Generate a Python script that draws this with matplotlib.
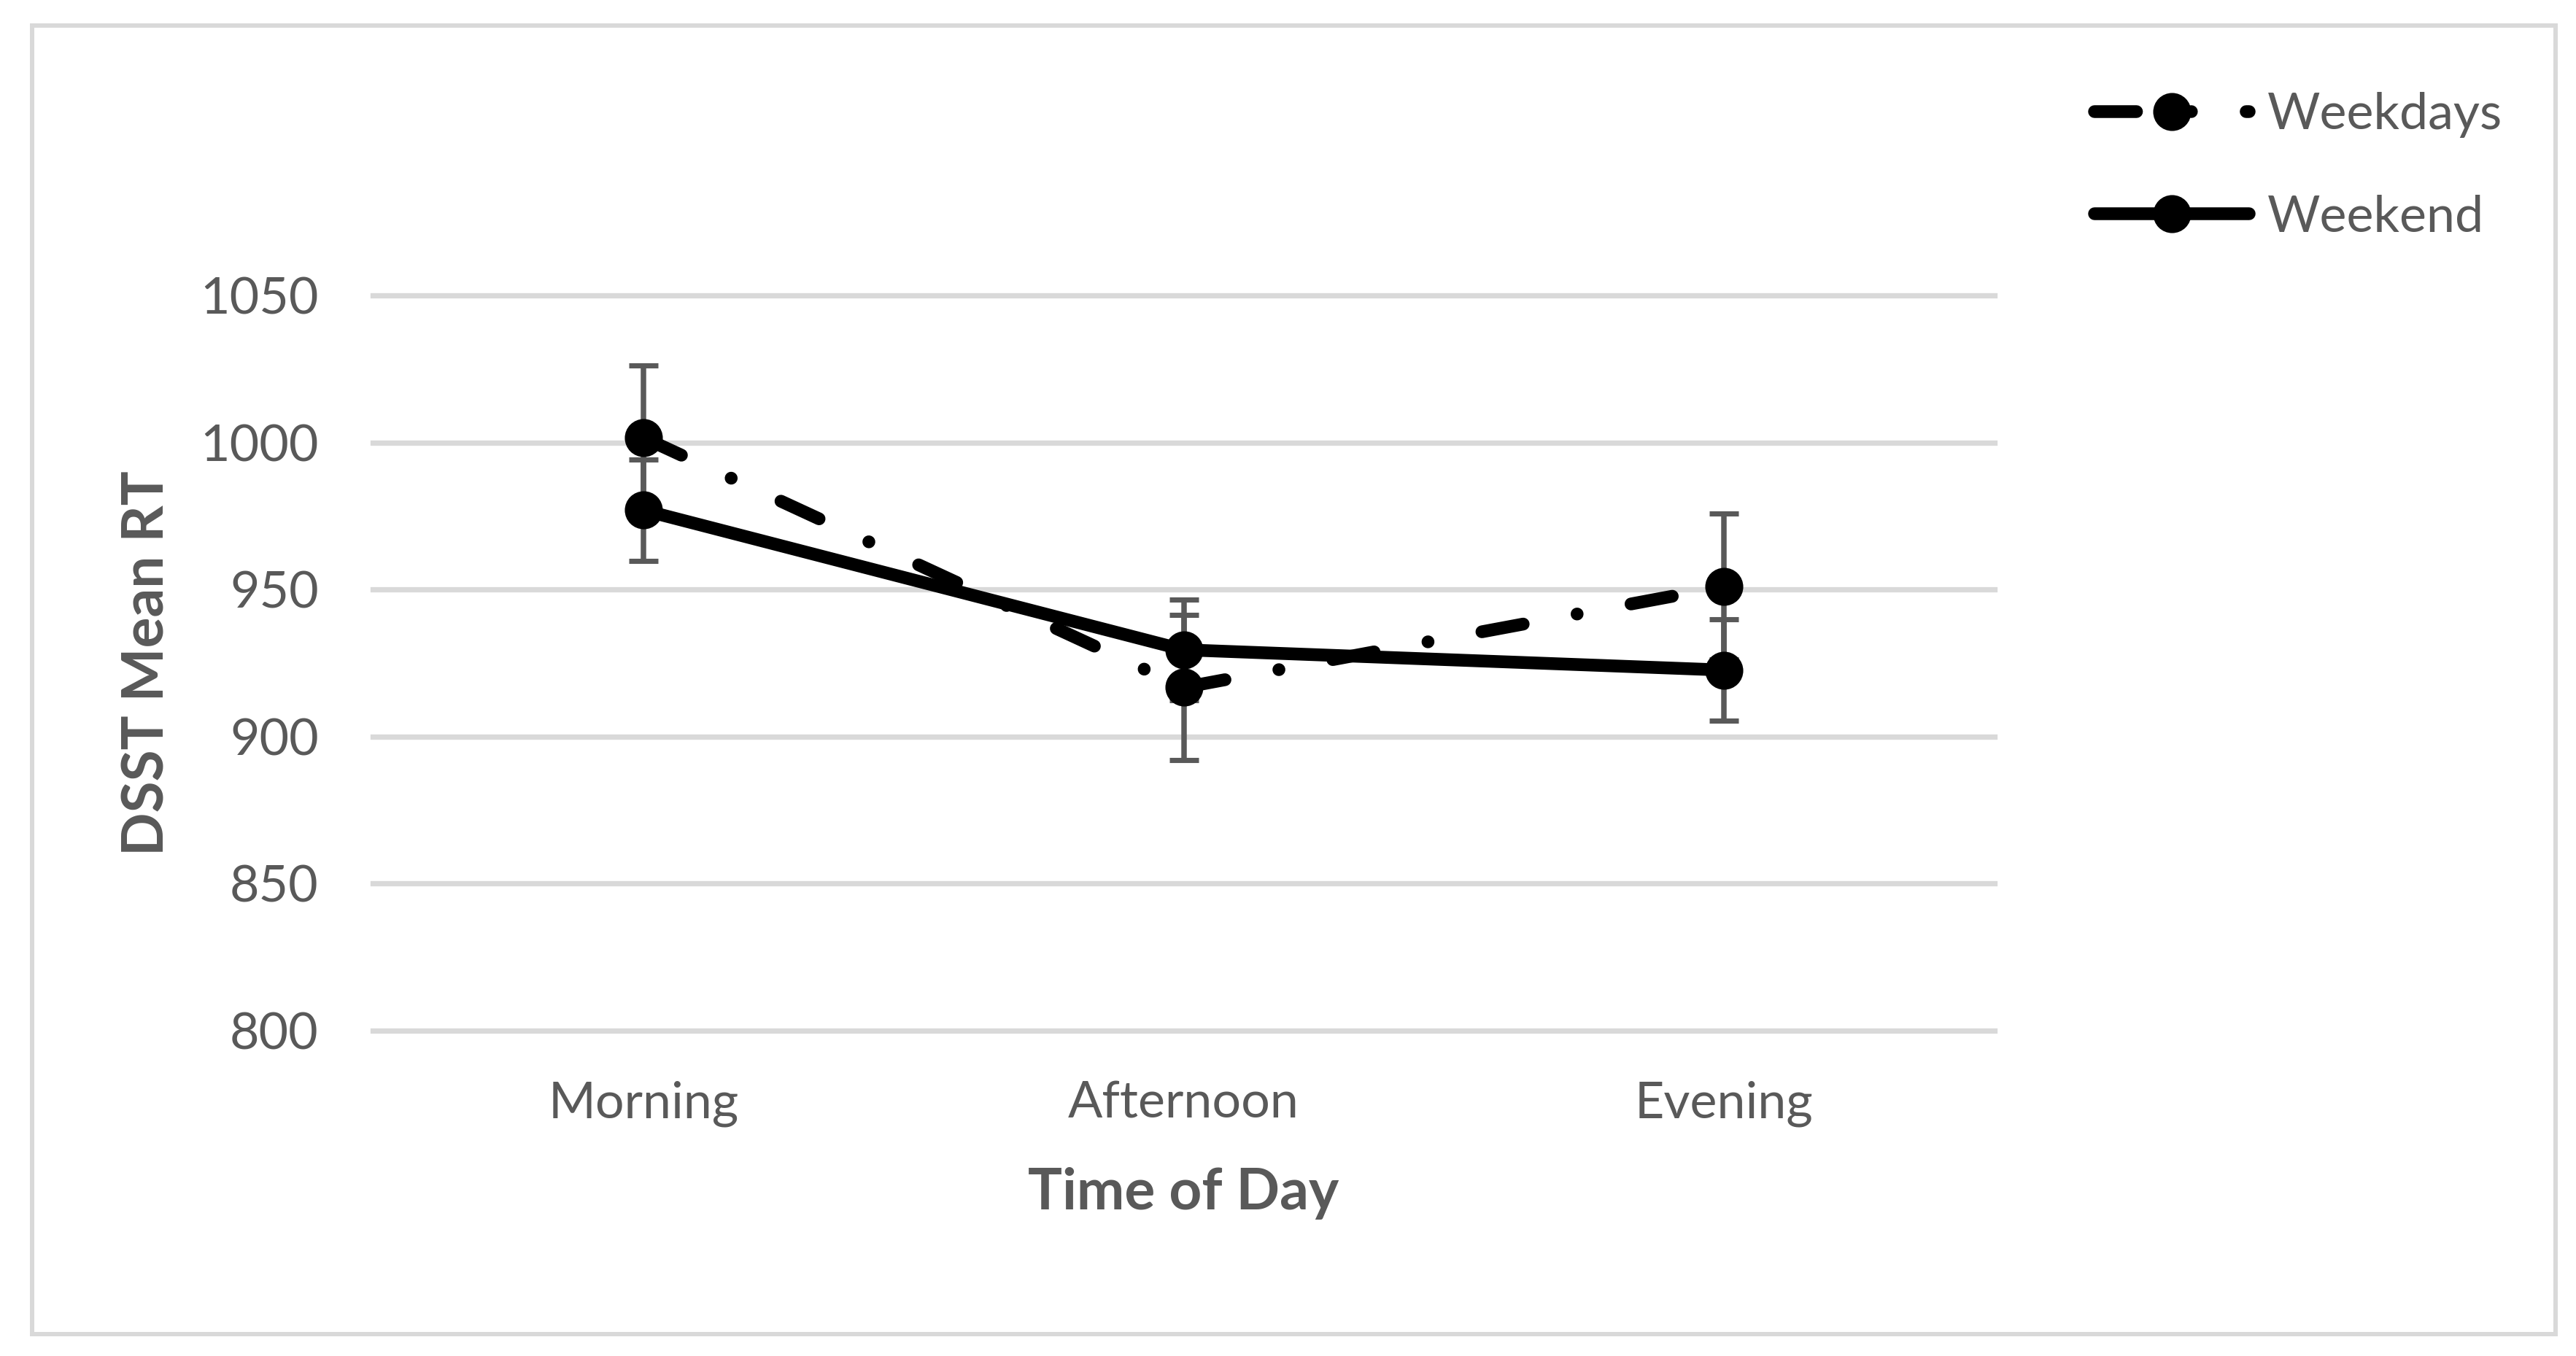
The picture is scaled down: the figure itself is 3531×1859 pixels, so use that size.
import matplotlib.pyplot as plt
from matplotlib.lines import Line2D
from matplotlib.patches import Rectangle

plt.rcParams["font.family"] = ["Lato", "DejaVu Sans"]

# data
times = ["Morning", "Afternoon", "Evening"]
weekdays_rt = [1001.7, 916.7, 951.0]
weekend_rt = [977.0, 929.5, 922.6]
weekdays_err = [24.6, 24.7, 24.8]
weekend_err = [17.3, 17.1, 17.3]
y_ticks = [800, 850, 900, 950, 1000, 1050]

C_TEXT = "#595959"
C_GRID = "#D9D9D9"
LW = 4.2
MS = 11.5
FS = 16.8
DASH = (3.29, 4.29, 0.01, 4.29)

W, H, DPI = 3531, 1859, 300
fig = plt.figure(figsize=(W / DPI, H / DPI), dpi=DPI)
ax = fig.add_axes([511.4 / W, 1 - 1412.7 / H, 2222.3 / W, 1007.5 / H])

x = list(range(len(times)))

ax.errorbar(x, weekdays_rt, yerr=weekdays_err, fmt="none", ecolor=C_TEXT,
            elinewidth=1.8, capsize=4.7, capthick=1.7, zorder=2)
ax.errorbar(x, weekend_rt, yerr=weekend_err, fmt="none", ecolor=C_TEXT,
            elinewidth=1.8, capsize=4.7, capthick=1.7, zorder=2)

# Excel restarts the dash pattern on every segment
for i in range(len(x) - 1):
    ax.plot(x[i:i + 2], weekdays_rt[i:i + 2], color="black", lw=LW,
            dashes=DASH, dash_capstyle="round", zorder=3)
ax.plot(x, weekdays_rt, "o", color="black", ms=MS, zorder=4)
ax.plot(x, weekend_rt, color="black", lw=LW, marker="o", ms=MS,
        solid_capstyle="round", zorder=4)

ax.set_xlim(-0.5, len(times) - 0.5)
ax.set_ylim(800, 1050)
ax.set_xticks(x)
ax.set_xticklabels(times)
ax.set_yticks(y_ticks)
ax.tick_params(length=0, labelsize=FS, labelcolor=C_TEXT)
ax.tick_params(axis="x", pad=16.6)
ax.tick_params(axis="y", pad=17.9)
ax.grid(axis="y", color=C_GRID, lw=1.75)
ax.set_axisbelow(True)
for gl in ax.get_ygridlines():
    gl.set_clip_on(False)
for s in ax.spines.values():
    s.set_visible(False)

ax.set_xlabel("Time of Day", fontsize=18.8, fontweight="bold", color=C_TEXT,
              va="center")
ax.xaxis.set_label_coords(0.5, -0.222)
ax.set_ylabel("DSST Mean RT", fontsize=18.8, fontweight="bold", color=C_TEXT,
              va="center")
ax.yaxis.set_label_coords(-0.1388, 0.5)

handles = [
    Line2D([], [], color="black", lw=LW, dashes=DASH, dash_capstyle="round",
           marker="o", ms=MS),
    Line2D([], [], color="black", lw=LW, solid_capstyle="round",
           marker="o", ms=MS),
]
ax.legend(handles, ["Weekdays", "Weekend"], loc="upper left",
          bbox_to_anchor=(2871 / W, 1 - 126 / H),
          bbox_transform=fig.transFigure, frameon=False, borderpad=0,
          borderaxespad=0, handlelength=3.03, handletextpad=0.36,
          labelspacing=1.11, fontsize=FS, labelcolor=C_TEXT, numpoints=1)

fig.patches.append(Rectangle((44 / W, 1 - 1829 / H), 3458.5 / W, 1794.5 / H,
                             transform=fig.transFigure, fill=False,
                             edgecolor=C_GRID, lw=1.44))

fig.savefig("out.png", dpi=DPI, facecolor="white")
